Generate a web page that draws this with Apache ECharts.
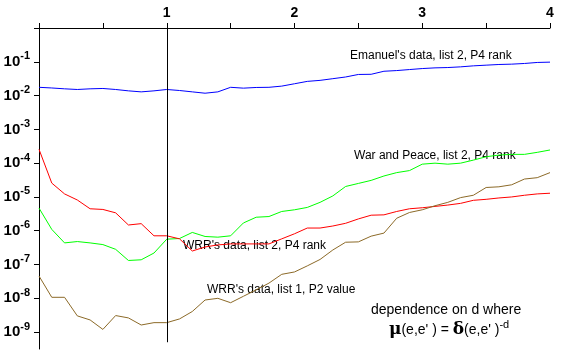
<!DOCTYPE html>
<html>
<head>
<meta charset="utf-8">
<script src="https://cdn.jsdelivr.net/npm/echarts@6/dist/echarts.min.js"></script>
<style>
  html, body { margin: 0; padding: 0; background: #fff; }
  #chart { width: 563px; height: 356px; }
</style>
</head>
<body>
<div id="chart"></div>
<script>
// d values (x axis)
const dValues = [0.0,0.1,0.2,0.3,0.4,0.5,0.6,0.7,0.8,0.9,1.0,1.1,1.2,1.3,1.4,1.5,1.6,1.7,1.8,1.9,2.0,
                 2.1,2.2,2.3,2.4,2.5,2.6,2.7,2.8,2.9,3.0,3.1,3.2,3.3,3.4,3.5,3.6,3.7,3.8,3.9,4.0];

const emanuelLog10 = [-1.755,-1.775,-1.80,-1.82,-1.80,-1.79,-1.82,-1.86,-1.89,-1.86,-1.82,-1.85,-1.89,-1.93,-1.89,
                      -1.755,-1.78,-1.76,-1.755,-1.72,-1.65,-1.58,-1.55,-1.50,-1.45,-1.375,-1.37,-1.28,-1.26,-1.23,
                      -1.20,-1.18,-1.17,-1.15,-1.12,-1.10,-1.08,-1.07,-1.05,-1.02,-1.01];
const warPeaceLog10 = [-5.33,-5.96,-6.36,-6.32,-6.36,-6.41,-6.55,-6.88,-6.86,-6.66,-6.25,-6.23,-6.05,-6.17,-6.19,
                       -6.15,-5.77,-5.60,-5.58,-5.43,-5.38,-5.31,-5.16,-4.97,-4.69,-4.60,-4.51,-4.38,-4.28,-4.22,
                       -4.03,-4.00,-4.03,-4.00,-3.91,-3.81,-3.76,-3.74,-3.74,-3.68,-3.61];
const wrrList2Log10 = [-3.59,-4.59,-4.91,-5.09,-5.35,-5.37,-5.47,-5.83,-5.79,-6.15,-6.15,-6.24,-6.60,-6.48,-6.42,
                       -6.39,-6.39,-6.39,-6.39,-6.24,-6.09,-5.92,-5.92,-5.86,-5.78,-5.65,-5.54,-5.53,-5.43,-5.35,
                       -5.32,-5.28,-5.24,-5.19,-5.10,-5.07,-5.03,-5.00,-4.95,-4.91,-4.89];
const wrrList1Log10 = [-7.34,-7.97,-7.97,-8.52,-8.64,-8.92,-8.51,-8.58,-8.79,-8.72,-8.72,-8.61,-8.39,-8.05,-8.00,
                       -8.13,-7.94,-7.75,-7.55,-7.29,-7.22,-7.04,-6.85,-6.57,-6.34,-6.33,-6.16,-6.07,-5.63,-5.46,
                       -5.38,-5.26,-5.16,-5.02,-4.95,-4.72,-4.70,-4.64,-4.47,-4.43,-4.28];

const xTickLabels = [1, 2, 3, 4];
const yLabelExponents = [-9,-8,-7,-6,-5,-4,-3,-2,-1];
const yTickExponents = [-9,-8,-7,-6,-5,-4,-3,-2,-1,0];
const referenceD = 1;
const referenceLineSpan = [0, -9.3];

const seriesNames = ["Emanuel's data, list 2, P4 rank", "War and Peace, list 2, P4 rank",
                     "WRR's data, list 2, P4 rank", "WRR's data, list 1, P2 value"];
const seriesColors = ['#0000ff', '#00ff00', '#ff0000', '#8c6a28'];
const seriesValues = [emanuelLog10, warPeaceLog10, wrrList2Log10, wrrList1Log10];

const chart = echarts.init(document.getElementById('chart'), null, { renderer: 'canvas' });

const series = seriesValues.map((vals, i) => ({
  name: seriesNames[i],
  type: 'line',
  data: dValues.map((d, j) => [d, vals[j]]),
  symbol: 'none',
  lineStyle: { color: seriesColors[i], width: 1 },
  itemStyle: { color: seriesColors[i] },
  animation: false,
  silent: true,
  z: 3
}));
series[0].markLine = {
  silent: true,
  symbol: ['none', 'none'],
  label: { show: false },
  lineStyle: { color: '#000', width: 1, type: 'solid' },
  animation: false,
  data: [[{ coord: [referenceD, referenceLineSpan[0]] }, { coord: [referenceD, referenceLineSpan[1]] }]]
};

const FONT = '"Liberation Sans", Arial, sans-serif';

chart.setOption({
  backgroundColor: '#fff',
  animation: false,
  grid: { left: 39, right: 13, top: 28, bottom: 7, containLabel: false },
  xAxis: {
    type: 'value',
    position: 'top',
    min: 0, max: 4, interval: 0.5,
    axisLine: { show: true, lineStyle: { color: '#000', width: 1 } },
    axisTick: { show: true, length: 5, inside: false, lineStyle: { color: '#000' } },
    splitLine: { show: false },
    axisLabel: {
      customValues: xTickLabels,
      margin: 8,
      color: '#000',
      fontFamily: FONT,
      fontWeight: 'bold',
      fontSize: 14,
      formatter: v => String(v)
    }
  },
  yAxis: {
    type: 'value',
    min: -9.5, max: 0,
    axisLine: { show: true, lineStyle: { color: '#000', width: 1 } },
    axisTick: { show: true, length: 5, customValues: yTickExponents, lineStyle: { color: '#000' } },
    splitLine: { show: false },
    axisLabel: {
      customValues: yLabelExponents,
      margin: 9,
      color: '#000',
      formatter: v => '{b|10}{s|' + Math.round(v) + '}',
      rich: {
        b: { fontFamily: FONT, fontWeight: 'bold', fontSize: 15, lineHeight: 15, color: '#000' },
        s: { fontFamily: FONT, fontWeight: 'bold', fontSize: 11, lineHeight: 11, padding: [0, 0, 11, 0], color: '#000' }
      }
    }
  },
  series: series,
  graphic: [
    { type: 'text', silent: true, style: { text: seriesNames[0], x: 350, y: 56, font: '12px ' + FONT, fill: '#000', verticalAlign: 'middle' } },
    { type: 'text', silent: true, style: { text: seriesNames[1], x: 354, y: 156, font: '12px ' + FONT, fill: '#000', verticalAlign: 'middle' } },
    { type: 'text', silent: true, style: { text: seriesNames[2], x: 183, y: 246, font: '12px ' + FONT, fill: '#000', verticalAlign: 'middle' } },
    { type: 'text', silent: true, style: { text: seriesNames[3], x: 207, y: 290, font: '12px ' + FONT, fill: '#000', verticalAlign: 'middle' } },
    { type: 'text', silent: true, style: { text: 'dependence on d where', x: 371, y: 310, font: '14px ' + FONT, fill: '#000', verticalAlign: 'middle' } },
    { type: 'text', silent: true, style: {
        text: '{g|μ}{t|(e,e\' ) = }{g|δ}{t|(e,e\' )}{s|-d}',
        x: 389, y: 330, verticalAlign: 'middle', fill: '#000',
        rich: {
          g: { fontFamily: '"DejaVu Serif", "Liberation Serif", serif', fontWeight: 'bold', fontSize: 17, fill: '#000' },
          t: { fontFamily: FONT, fontSize: 14, fill: '#000' },
          s: { fontFamily: FONT, fontSize: 11, padding: [0, 0, 11, 0], fill: '#000' }
        }
      } }
  ]
});
</script>
</body>
</html>
